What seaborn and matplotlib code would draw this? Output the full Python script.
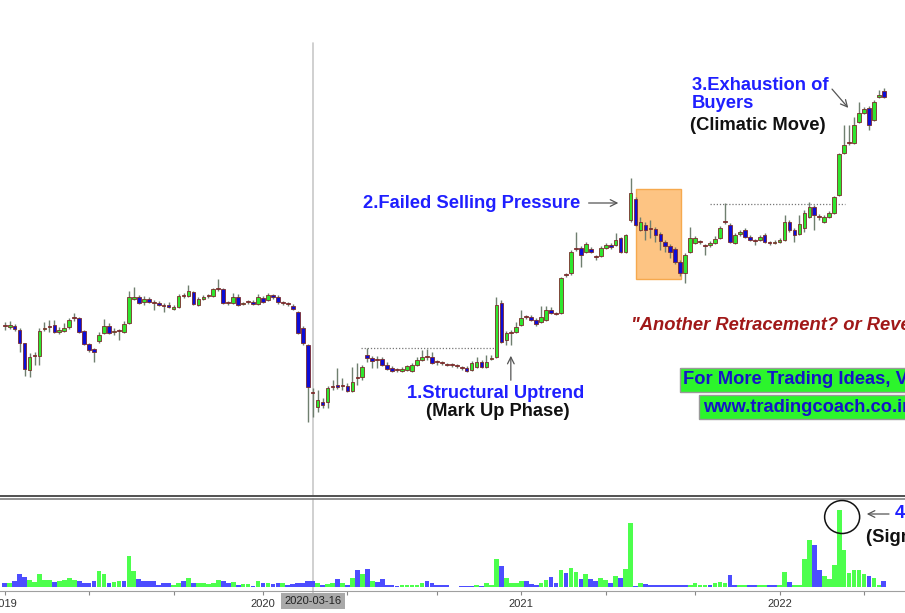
import numpy as np
import pandas as pd
import matplotlib
matplotlib.use("Agg")
import matplotlib.pyplot as plt
import seaborn as sns
from matplotlib.patches import Rectangle, Ellipse

sns.set_theme(style="white")
plt.rcParams["font.family"] = ["Liberation Sans", "DejaVu Sans"]

# ---------------- data (weekly candles) ----------------
start_week = "2019-01-07"
marker_date = "2020-03-16"

open_ = [124,123,124,120,107,80,94,94,121,123, 125,118,119,123,132,132,119,106,101,109,
         117,124,118,119,118,127,151,153,148,151, 147,147,144,145,141,143,154,154,158,145,
         151,154,154,161,161,147,147,153,146,148, 148,146,152,150,155,153,147,146,144,138,
         122,105,57,43,48,48,63,65,64,64, 59,72,73,95,92,90,91,85,82,80,
         79,80,79,85,90,93,93,88,87,85, 85,84,82,82,80,83,88,83,91,93,
         147,110,117,118,125,133,133,130,128,130, 140,136,137,175,177,201,202,198,201,193,
         194,202,205,205,212,198,230,251,220,225, 221,221,216,208,204,201,188,177,198,207,
         208,204,205,207,212,228,225,207,216,220, 213,209,210,215,207,207,208,210,228,220,
         216,222,233,243,233,228,233,237,255,297, 307,307,328,337,342,330,353,359]
high = [128,129,126,122,107,97,98,122,128,130, 130,123,127,132,137,133,120,107,102,118,
        131,127,122,121,129,159,163,155,154,153, 150,149,147,148,145,156,157,165,159,153,
        155,156,162,171,162,149,157,156,148,150, 150,156,154,157,156,155,149,148,146,139,
        124,106,62,60,52,64,70,82,72,67, 83,87,85,102,94,94,93,88,84,82,
        83,85,87,93,100,101,98,90,89,87, 87,86,84,84,89,93,90,95,95,153,
        150,119,120,128,140,135,135,132,144,144, 143,138,173,177,200,218,204,208,203,195,
        204,207,207,217,213,216,272,253,233,228, 230,223,218,210,206,203,190,197,223,214,
        210,206,209,214,224,247,227,217,220,222, 215,211,215,217,209,210,212,235,230,222,
        235,240,248,245,236,235,239,254,297,325, 325,333,348,343,344,350,360,362]
low = [120,121,119,98,74,73,85,85,119,118, 117,116,118,121,129,117,105,98,88,107,
       116,116,115,110,117,126,150,146,145,147, 140,144,138,142,140,142,152,153,145,144,
       150,152,153,159,146,145,146,144,145,146, 145,145,147,149,151,146,145,144,140,116,
       105,28,33,38,42,42,60,61,60,58, 58,65,70,88,82,82,84,80,78,78,
       78,79,78,84,89,90,86,85,85,84, 83,82,80,78,79,82,82,82,90,92,
       107,105,105,117,124,131,129,124,127,129, 136,135,136,173,175,199,183,197,197,190,
       193,201,201,204,197,197,228,224,219,210, 212,208,200,198,192,186,174,167,197,206,
       206,195,203,206,211,226,207,206,214,212, 209,205,209,207,205,206,207,209,218,208,
       215,218,232,220,230,227,232,236,254,296, 305,306,327,336,320,329,352,352]
close = [124,125,121,107,81,93,94,119,122,123, 118,120,122,130,132,118,106,100,98,115,
         124,117,119,119,126,153,153,147,151,148, 147,145,144,143,143,154,154,159,146,151,
         153,154,161,161,147,147,153,145,147,148, 146,153,148,155,153,148,147,146,141,117,
         107,63,57,50,45,62,63,63,64,59, 68,72,83,92,89,90,85,81,79,80,
         81,84,85,90,93,93,87,88,87,85, 85,84,82,79,87,88,83,88,92,145,
         108,117,117,123,132,133,130,126,133,140, 137,136,172,175,198,201,195,206,198,193,
         202,205,203,210,198,215,257,225,228,220, 221,215,209,204,198,188,177,195,212,212,
         208,204,207,211,222,228,208,215,218,213, 210,209,213,208,207,208,210,228,220,215,
         226,237,243,235,233,233,237,253,296,305, 307,325,337,341,325,348,355,353]
volume = [3.7,4,5.7,12.7,10,6.7,5,13.3,7.3,6.7, 5,5.7,7.3,9,7.3,6,4.3,3.7,6,15.7,
          12.7,3.7,5,5.7,5.7,31,15.7,8,6,6, 6,1.7,3.7,4.3,2,4.3,5.7,9.3,3.7,4.3,
          3.7,3,3.7,7.3,6,4.3,5,2.3,3,3, 1.3,5.7,4.3,4.3,3,3.7,3.7,2.3,3,3.7,
          4.3,6,6,4.3,2.3,3,4.3,8,4.3,2.3, 9,17.3,13.3,18.3,5.7,5,8,1.7,1.7,1.3,
          1.7,1.7,1.7,1.7,3.7,5.7,4.3,1.7,1.7,1.7, 0.5,0.5,1,1,1,2.3,1,4,2.3,27.7,
          20.7,9,4.3,4.3,5.7,5.7,2.7,2.3,3.7,6.7, 10,4,16.7,14,19.3,15,8.3,13.3,8.3,6,
          9,7.3,4,11.3,9,18.3,64.3,1,4.3,2.7, 2.3,1.7,1.7,1.7,2.3,1.7,1.7,1.7,1.7,3.7,
          2.3,1.7,1.7,3.7,5,3.7,11.7,1.7,1.7,2.3, 1.7,1.7,1.7,1.7,1.7,1.7,2.3,15,5,2.3,
          2.3,27.7,46.7,41.7,17.3,11.3,8.3,21.7,76.7,36.7, 14,17.3,17.3,12.7,11.3,9.3,2.3,5.7]
volume_dir = list("BGBBBGGGGG" "BGGGGBBBBG" "GBGGBGGBBB" "BBBBGGBGBG" "GGGGBBGBGG"
                  "BGBGBBGBBB" "BBBGBGGBGB" "GBGBGBBBBB" "GGGGGBBBBB"
                  "BBBBBGBGGG" "BGGGGBBBGG" "BBGBGGBGBB" "GGBGBGGBGB" "BBBBBBBBGG"
                  "GGBGGGBBGG" "BBGGBBGGBG" "GGGBBGGGGG" "GGGGBGGB")

# ---------------- styling ----------------
wick_c = "#6f7f6f"
edge_c = "#7b2b2b"
up_c = "#2fe62f"
dn_c = "#0d0dd6"
vol_up = "#4dff4d"
vol_dn = "#4d4dff"
blue_txt = "#1f1fff"

dates = pd.date_range(start_week, periods=len(close), freq="W-MON")
idx = np.arange(len(close))
o = np.array(open_, float); c = np.array(close, float)

fig = plt.figure(figsize=(9.05, 6.13), dpi=100)
ax_p = fig.add_axes([0, 117 / 613, 1, 496 / 613])
ax_v = fig.add_axes([0, 22 / 613, 1, 92 / 613], sharex=ax_p)

# candles
body_bottom = np.minimum(o, c)
body_h = np.maximum(np.abs(c - o), 0.9)
face = np.where(c > o, up_c, np.where(c < o, dn_c, edge_c))
ax_p.vlines(idx, low, high, colors=wick_c, lw=1.0, zorder=2)
ax_p.bar(idx, body_h, bottom=body_bottom, width=0.74, color=face,
         edgecolor=edge_c, linewidth=0.6, zorder=3)

# volume via seaborn
df_v = pd.DataFrame({"idx": idx, "volume": volume,
                     "dir": ["up" if d == "G" else "down" for d in volume_dir]})
sns.barplot(data=df_v, x="idx", y="volume", hue="dir", palette={"up": vol_up, "down": vol_dn},
            native_scale=True, dodge=False, width=0.95, errorbar=None, legend=False,
            saturation=1, linewidth=0, edgecolor="none", ax=ax_v)

xl = (-4.7 / 4.967, (905 - 4.7) / 4.967)
ax_p.set_xlim(*xl)
ax_p.set_ylim(-46, 450)
ax_v.set_xlim(*xl)
ax_v.set_ylim(-4, 88)
ax_v.set_xlabel(""); ax_v.set_ylabel("")

# spines
for s in ["top", "left", "right"]:
    ax_p.spines[s].set_visible(False)
ax_p.spines["bottom"].set_color("#505050"); ax_p.spines["bottom"].set_linewidth(1.4)
for s in ["left", "right"]:
    ax_v.spines[s].set_visible(False)
ax_v.spines["top"].set_color("#808080"); ax_v.spines["top"].set_linewidth(1.2)
ax_v.spines["bottom"].set_color("#a0a0a0"); ax_v.spines["bottom"].set_linewidth(0.8)
ax_p.tick_params(left=False, bottom=False, labelbottom=False, labelleft=False)
ax_v.set_yticks([])

# date ticks: first bar of Jan / May / Sep
tick_pos, tick_lab = [], []
for yr in sorted(set(dates.year)):
    for m in (1, 5, 9):
        sel = np.where((dates.year == yr) & (dates.month == m))[0]
        if len(sel) and not (m == 1 and dates[sel[0]].day > 7):
            tick_pos.append(sel[0])
            tick_lab.append(str(yr) if m == 1 else "")
ax_v.set_xticks(tick_pos)
ax_v.set_xticklabels(tick_lab)
ax_v.tick_params(axis="x", bottom=True, direction="out", length=3, width=0.8,
                 color="#888888", labelsize=8, labelcolor="#333333", pad=3)

# marker line at 2020-03-16
mi = dates.get_loc(pd.Timestamp(marker_date))
ax_p.axvline(mi, ymin=0, ymax=(407 + 46) / 496, color="#c8c8c8", lw=1.2, zorder=1)
ax_v.axvline(mi, ymin=-0.06, ymax=1, color="#c8c8c8", lw=1.2, zorder=0, clip_on=False)
ax_v.text(mi, -0.11, marker_date, transform=ax_v.get_xaxis_transform(), ha="center",
          va="center", fontsize=8, color="#222222",
          bbox=dict(boxstyle="square,pad=0.3", fc="#a9a9a9", ec="none"))

# annotations: price panel
dot = (0, (1, 1.5))
ax_p.plot([71.7, 98.7], [102, 102], ls=dot, color="#777777", lw=0.9, zorder=1)
ax_p.plot([142.0, 169.2], [246, 246], ls=dot, color="#777777", lw=0.9, zorder=1)
ax_p.annotate("", xy=(101.9, 97), xytext=(101.9, 67),
              arrowprops=dict(arrowstyle="->", color="#555555", lw=0.9))
ax_p.annotate("", xy=(124.1, 247), xytext=(117.0, 247),
              arrowprops=dict(arrowstyle="->", color="#555555", lw=0.9))
ax_p.annotate("", xy=(170.2, 340), xytext=(166.2, 363),
              arrowprops=dict(arrowstyle="->", color="#555555", lw=0.9))
ax_p.add_patch(Rectangle((127.0, 171), 9.2, 90, fc="#fdc483", ec="#f6a94e", lw=1, zorder=1))

fs = 13.2
ax_p.text(98.9, 56, "1.Structural Uptrend", ha="center", va="center", fontsize=fs,
          fontweight="bold", color=blue_txt)
ax_p.text(99.3, 38, "(Mark Up Phase)", ha="center", va="center", fontsize=fs,
          fontweight="bold", color="#111111")
ax_p.text(115.8, 247, "2.Failed Selling Pressure", ha="right", va="center", fontsize=fs,
          fontweight="bold", color=blue_txt)
ax_p.text(138.4, 365, "3.Exhaustion of", ha="left", va="center", fontsize=fs,
          fontweight="bold", color=blue_txt)
ax_p.text(138.4, 347, "Buyers", ha="left", va="center", fontsize=fs,
          fontweight="bold", color=blue_txt)
ax_p.text(138.0, 324, "(Climatic Move)", ha="left", va="center", fontsize=fs,
          fontweight="bold", color="#111111")
ax_p.text(126.1, 124, "\"Another Retracement? or Reversal?\"", ha="left", va="center",
          fontsize=fs, fontweight="bold", fontstyle="italic", color="#a01818")
ax_p.text(136.6, 70, "For More Trading Ideas, Visit", ha="left", va="center", fontsize=fs,
          fontweight="bold", color="#1515c8",
          bbox=dict(boxstyle="square,pad=0.2", fc="#2cf52c", ec="#999999", lw=1))
ax_p.text(140.6, 43, "www.tradingcoach.co.in", ha="left", va="center", fontsize=fs,
          fontweight="bold", color="#1515c8",
          bbox=dict(boxstyle="square,pad=0.2", fc="#2cf52c", ec="#999999", lw=1))

# annotations: volume panel
ax_v.add_patch(Ellipse((168.6, 70), 7.05, 33, fc="none", ec="#111111", lw=1.1, zorder=5))
ax_v.annotate("", xy=(173.0, 73), xytext=(178.6, 73),
              arrowprops=dict(arrowstyle="->", color="#555555", lw=0.9))
ax_v.text(179.2, 73, "4.Buying Climax", ha="left", va="center", fontsize=fs,
          fontweight="bold", color=blue_txt)
ax_v.text(173.4, 50, "(Signs of Supply)", ha="left", va="center", fontsize=fs,
          fontweight="bold", color="#111111")

fig.savefig("out.png", dpi=100)
